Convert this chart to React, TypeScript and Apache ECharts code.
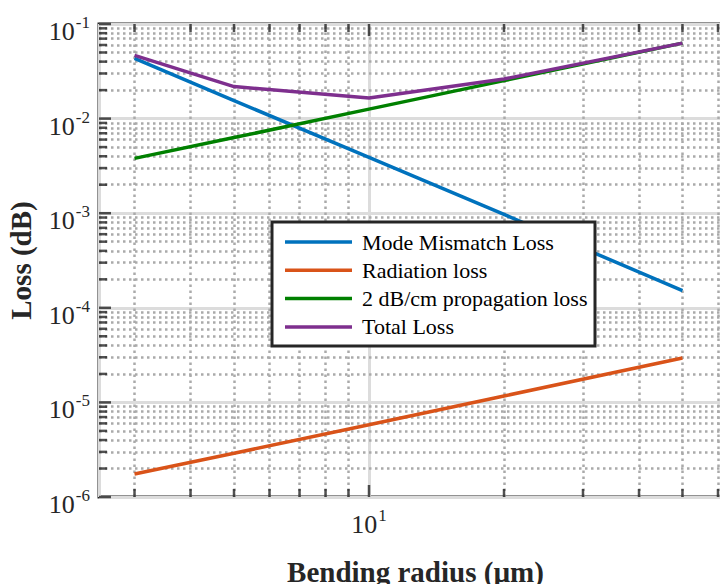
import React, { useEffect, useRef } from "react";
import * as echarts from "echarts";

// ---- data ----
const radius = [3, 5, 10, 20, 50];
const modeMismatch = [0.0432, 0.0155, 0.0039, 0.00097, 0.000152];
const radiation = [1.75e-6, 2.9e-6, 5.8e-6, 1.17e-5, 2.95e-5];
const propagation = [0.0038, 0.0063, 0.0126, 0.0252, 0.0628];
const totalLoss = [0.0466, 0.0218, 0.0165, 0.0262, 0.0628];

const seriesNames = [
  "Mode Mismatch Loss",
  "Radiation loss",
  "2 dB/cm propagation loss",
  "Total Loss",
];
const seriesColors = ["#0072BD", "#D95319", "#008000", "#7E2F8E"];

// axis ranges and tick positions
const xMin = 2.5;
const xMax = 70;
const yMin = 1e-6;
const yMax = 1e-1;
const xMajorTicks = [10];
const xMinorTicks = [3, 4, 5, 6, 7, 8, 9, 20, 30, 40, 50, 60];
const yMajorTicks = [1e-6, 1e-5, 1e-4, 1e-3, 1e-2, 1e-1];
const yMinorMantissas = [2, 3, 4, 5, 6, 7, 8, 9];
const yDecades = [-6, -5, -4, -3, -2];

const FONT = "Liberation Serif";
const AXIS_COLOR = "#262626";

// legend box layout (pixels)
const LEG = { x: 272, y: 222, w: 323, h: 124, lineX1: 285, lineX2: 352, textX: 362, firstY: 242, step: 28.3 };

export default function App() {
  const ref = useRef<HTMLDivElement>(null);

  useEffect(() => {
    if (!ref.current) return;
    const chart = echarts.init(ref.current, undefined, { renderer: "svg" });

    const yMinorTicks: number[] = [];
    yDecades.forEach((d) =>
      yMinorMantissas.forEach((m) => yMinorTicks.push(Number((m * Math.pow(10, d)).toPrecision(3))))
    );

    const pair = (xs: number[], ys: number[]) => xs.map((x, i) => [x, ys[i]]);
    const dataSets = [modeMismatch, radiation, propagation, totalLoss];

    const richLabel = {
      base: {
        fontSize: 26,
        lineHeight: 26,
        fontFamily: FONT,
        color: AXIS_COLOR,
        padding: [15, 0, 0, 0],
      },
      sup: {
        fontSize: 17,
        lineHeight: 18,
        fontFamily: FONT,
        color: AXIS_COLOR,
        padding: [10, 0, 13, 1],
      },
    };
    const powFormatter = (v: number) => {
      const e = Math.log10(v);
      const r = Math.round(e);
      if (Math.abs(e - r) > 1e-6) return "";
      return `{base|10}{sup|${r}}`;
    };

    const tickSeries = (
      name: string,
      data: number[][],
      size: number[],
      offset: number[],
      extra: any = {}
    ) => ({
      type: "scatter",
      name,
      data,
      symbol: "rect",
      symbolSize: size,
      symbolOffset: offset,
      itemStyle: { color: AXIS_COLOR },
      silent: true,
      clip: false,
      z: 6,
      emphasis: { disabled: true },
      ...extra,
    });

    const minorGridLines = [
      ...xMinorTicks.map((v) => ({ xAxis: v })),
      ...yMinorTicks.map((v) => ({ yAxis: v })),
    ];

    // legend drawn as graphic elements, above the plot
    const legendElements: any[] = [
      {
        type: "rect",
        z: 100,
        shape: { x: LEG.x, y: LEG.y, width: LEG.w, height: LEG.h },
        style: { fill: "#ffffff", stroke: AXIS_COLOR, lineWidth: 3 },
        silent: true,
      },
    ];
    seriesNames.forEach((name, i) => {
      const yc = LEG.firstY + i * LEG.step;
      legendElements.push({
        type: "line",
        z: 101,
        shape: { x1: LEG.lineX1, y1: yc, x2: LEG.lineX2, y2: yc },
        style: { stroke: seriesColors[i], lineWidth: 3.5 },
        silent: true,
      });
      legendElements.push({
        type: "text",
        z: 101,
        x: LEG.textX,
        y: yc,
        style: {
          text: name,
          fontFamily: FONT,
          fontSize: 22,
          fill: "#000000",
          align: "left",
          verticalAlign: "middle",
        },
        silent: true,
      });
    });

    chart.setOption({
      animation: false,
      backgroundColor: "#ffffff",
      textStyle: { fontFamily: FONT },
      grid: {
        left: 99,
        top: 24,
        right: 12,
        bottom: 87,
        show: true,
        borderColor: AXIS_COLOR,
        borderWidth: 3,
        backgroundColor: "transparent",
        containLabel: false,
        outerBoundsMode: "none",
      },
      graphic: {
        elements: legendElements,
      },
      xAxis: {
        type: "log",
        logBase: 10,
        min: xMin,
        max: xMax,
        name: "Bending radius (\u00b5m)",
        nameLocation: "middle",
        nameGap: 60,
        nameTextStyle: {
          fontFamily: FONT,
          fontSize: 29,
          fontWeight: "bold",
          color: AXIS_COLOR,
          padding: [0, 16, 0, 0],
        },
        axisLine: { show: false },
        axisTick: { show: false },
        axisLabel: {
          margin: 7,
          formatter: powFormatter,
          rich: richLabel,
          showMinLabel: false,
          showMaxLabel: false,
        },
        splitLine: { show: true, lineStyle: { color: "#dcdcdc", width: 3 } },
      },
      yAxis: {
        type: "log",
        logBase: 10,
        min: yMin,
        max: yMax,
        name: "Loss (dB)",
        nameLocation: "middle",
        nameGap: 64,
        nameTextStyle: {
          fontFamily: FONT,
          fontSize: 29,
          fontWeight: "bold",
          color: AXIS_COLOR,
        },
        axisLine: { show: false },
        axisTick: { show: false },
        axisLabel: {
          margin: 9,
          formatter: powFormatter,
          rich: richLabel,
        },
        splitLine: { show: true, lineStyle: { color: "#dcdcdc", width: 3 } },
      },
      series: [
        ...dataSets.map((d, i) => ({
          type: "line",
          name: seriesNames[i],
          data: pair(radius, d),
          symbol: "none",
          color: seriesColors[i],
          lineStyle: { width: 3.5, color: seriesColors[i] },
          z: 3,
          silent: true,
          emphasis: { disabled: true },
        })),
        tickSeries(
          "minorTicksBottom",
          xMinorTicks.map((x) => [x, yMin]),
          [2.5, 8],
          [0, -4],
          {
            markLine: {
              silent: true,
              z: 1,
              precision: 12,
              symbol: ["none", "none"],
              label: { show: false },
              emphasis: { disabled: true },
              lineStyle: { color: "#aaaaaa", width: 2.5, type: [2.5, 3.5] },
              data: minorGridLines,
            },
          }
        ),
        tickSeries("minorTicksTop", xMinorTicks.map((x) => [x, yMax]), [2.5, 8], [0, 4]),
        tickSeries("majorTicksBottom", xMajorTicks.map((x) => [x, yMin]), [2.5, 12], [0, -6]),
        tickSeries("majorTicksTop", xMajorTicks.map((x) => [x, yMax]), [2.5, 12], [0, 6]),
        tickSeries("minorTicksLeft", yMinorTicks.map((y) => [xMin, y]), [8, 2.5], [4, 0]),
        tickSeries("majorTicksLeft", yMajorTicks.map((y) => [xMin, y]), [12, 2.5], [6, 0]),
      ],
    });

    return () => chart.dispose();
  }, []);

  return (
    <div
      style={{
        position: "fixed",
        left: 0,
        top: 0,
        width: 720,
        height: 584,
        overflow: "hidden",
        background: "#fff",
      }}
    >
      <div ref={ref} style={{ width: 760, height: 584 }} />
    </div>
  );
}
